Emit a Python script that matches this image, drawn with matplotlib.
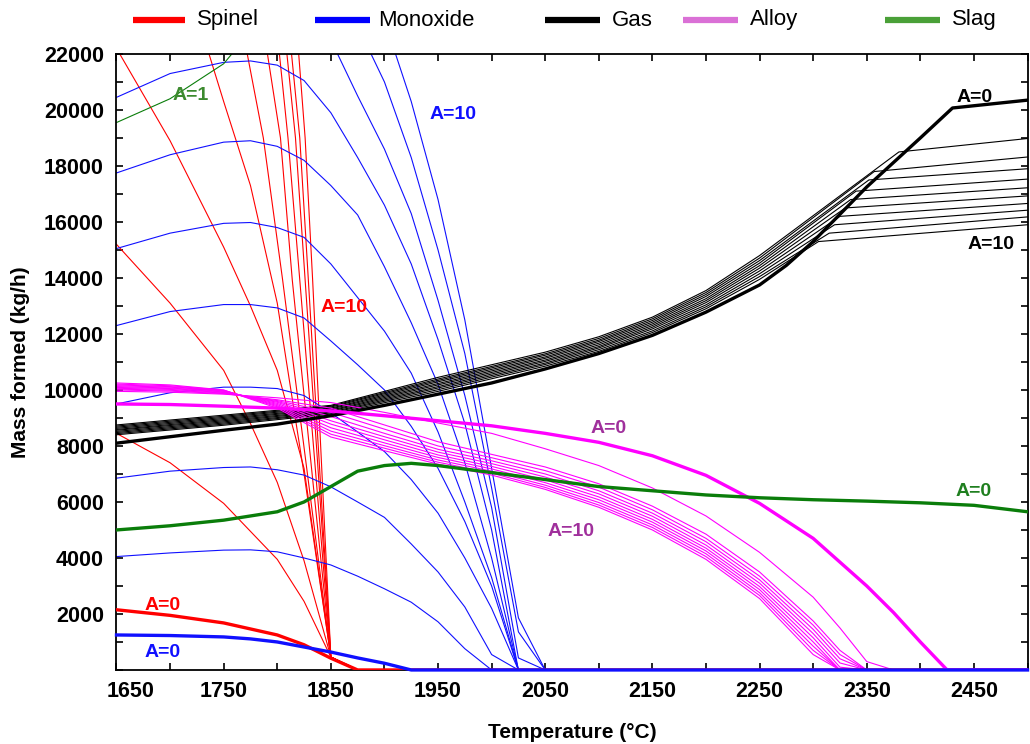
import numpy as np
import matplotlib.pyplot as plt
import matplotlib.transforms as mtransforms
from matplotlib.lines import Line2D
from matplotlib.ticker import MultipleLocator, FixedLocator, FuncFormatter

plt.rcParams['font.family'] = ['Liberation Sans', 'DejaVu Sans']

# Spinel (red): each A value has its own temperature points
spinel_t = [
    [1650, 1700, 1750, 1800, 1825, 1850, 1875, 2500],
    [1650, 1700, 1750, 1800, 1825, 1850, 1875, 2500],
    [1650, 1700, 1750, 1775, 1800, 1825, 1850, 1875, 2500],
    [1650, 1700, 1750, 1775, 1800, 1825, 1850, 1875, 2500],
    [1725, 1750, 1775, 1800, 1825, 1850, 1875, 2500],
    [1765, 1787, 1805, 1850, 1875, 2500],
    [1788, 1803, 1814, 1850, 1875, 2500],
    [1798, 1810, 1821, 1850, 1875, 2500],
    [1805, 1817, 1826, 1850, 1875, 2500],
    [1810, 1821, 1829, 1850, 1875, 2500],
    [1818, 1826, 1833, 1850, 1875, 2500],
]
spinel_y = [
    [2150, 1950, 1680, 1250, 900, 420, 0, 0],
    [8450, 7400, 5950, 3950, 2450, 460, 0, 0],
    [15200, 13100, 10700, 8800, 6700, 3900, 460, 0, 0],
    [22200, 18900, 15100, 13000, 10700, 7200, 460, 0, 0],
    [23400, 20300, 17300, 13100, 7000, 460, 0, 0],
    [23400, 19000, 13930, 460, 0, 0],
    [22700, 19000, 13930, 460, 0, 0],
    [23500, 19000, 13930, 460, 0, 0],
    [23500, 19000, 13930, 460, 0, 0],
    [23300, 19000, 13930, 460, 0, 0],
    [23000, 19000, 13930, 460, 0, 0],
]

# Monoxide (blue), A = 0..10
monoxide_t = [1650, 1700, 1750, 1775, 1800, 1825, 1850, 1875, 1900, 1925, 1950, 1975, 2000, 2025, 2050, 2500]
monoxide_y = [
    [1250, 1230, 1180, 1110, 1000, 820, 640, 430, 240, 0, 0, 0, 0, 0, 0, 0],
    [4050, 4180, 4280, 4290, 4220, 4000, 3750, 3350, 2900, 2420, 1720, 760, 0, 0, 0, 0],
    [6850, 7100, 7230, 7250, 7150, 6960, 6540, 6000, 5450, 4500, 3500, 2250, 550, 0, 0, 0],
    [9500, 9900, 10100, 10100, 10050, 9800, 9180, 8500, 7800, 6800, 5600, 4000, 2200, 0, 0, 0],
    [12300, 12800, 13050, 13050, 12930, 12570, 11750, 10900, 10000, 8700, 7200, 5300, 3000, 0, 0, 0],
    [15050, 15600, 15950, 15980, 15800, 15450, 14500, 13300, 12100, 10600, 8500, 6000, 3300, 0, 0, 0],
    [17750, 18400, 18850, 18900, 18700, 18200, 17300, 16250, 14400, 12400, 10200, 7400, 4000, 0, 0, 0],
    [20450, 21300, 21700, 21750, 21600, 21050, 19900, 18300, 16600, 14500, 11800, 8800, 5000, 0, 0, 0],
    [23200, 24200, 24600, 24600, 24500, 23800, 22500, 20500, 18600, 16300, 13200, 9800, 5800, 430, 0, 0],
    [25900, 27000, 27500, 27500, 27300, 26600, 25000, 23000, 21000, 18300, 15000, 11300, 6500, 1360, 0, 0],
    [28600, 29800, 30300, 30300, 30100, 29400, 27700, 25500, 23200, 20300, 16800, 12500, 7200, 1860, 0, 0],
]

# Gas (black): A=0 on its own grid, A=1..10 break at different temperatures
gas0_t = [1650, 1700, 1750, 1800, 1850, 1900, 1950, 2000, 2050, 2100, 2150, 2200, 2250, 2275, 2300, 2350, 2400, 2430, 2500]
gas0_y = [8100, 8330, 8560, 8780, 9080, 9450, 9850, 10250, 10750, 11300, 11950, 12780, 13750, 14450, 15300, 17250, 19000, 20070, 20350]
gas_t = [1650, 1750, 1850, 1950, 2050, 2100, 2150, 2200, 2250]
gas_break_t = [2380, 2357, 2352, 2340, 2335, 2330, 2325, 2320, 2315, 2305]
gas_y = [
    [8750, 9100, 9450, 10450, 11350, 11900, 12600, 13550, 14800, 18500, 18980],
    [8710, 9060, 9420, 10390, 11290, 11840, 12540, 13480, 14710, 17800, 18320],
    [8670, 9020, 9390, 10340, 11240, 11780, 12480, 13410, 14620, 17500, 17900],
    [8630, 8980, 9350, 10290, 11180, 11730, 12420, 13340, 14530, 17100, 17530],
    [8590, 8940, 9320, 10230, 11130, 11670, 12360, 13260, 14440, 16800, 17220],
    [8560, 8900, 9280, 10180, 11070, 11610, 12300, 13190, 14350, 16500, 16930],
    [8520, 8860, 9250, 10120, 11020, 11550, 12240, 13120, 14250, 16200, 16660],
    [8480, 8820, 9210, 10070, 10960, 11500, 12180, 13040, 14150, 15900, 16420],
    [8440, 8780, 9180, 10010, 10910, 11440, 12110, 12970, 14050, 15600, 16180],
    [8400, 8740, 9140, 9950, 10850, 11380, 12050, 12900, 13950, 15300, 15900],
]

# Alloy (magenta), A = 0..10
alloy_t = [1650, 1700, 1750, 1800, 1850, 1900, 1950, 2000, 2050, 2100, 2150, 2200, 2250, 2300, 2325, 2350, 2375, 2400, 2425, 2500]
alloy_y = [
    [9500, 9480, 9420, 9350, 9250, 9080, 8900, 8720, 8450, 8130, 7650, 6950, 5950, 4700, 3850, 3000, 2050, 1000, 0, 0],
    [9950, 9920, 9850, 9720, 9550, 9200, 8820, 8450, 7900, 7300, 6500, 5500, 4200, 2600, 1500, 300, 0, 0, 0, 0],
    [10000, 9960, 9870, 9650, 9350, 8750, 8150, 7700, 7250, 6650, 5850, 4850, 3500, 1750, 700, 0, 0, 0, 0, 0],
    [10030, 9990, 9890, 9620, 9200, 8600, 8000, 7580, 7120, 6530, 5720, 4700, 3350, 1600, 550, 0, 0, 0, 0, 0],
    [10060, 10020, 9910, 9590, 9050, 8450, 7880, 7470, 7000, 6400, 5600, 4580, 3220, 1450, 400, 0, 0, 0, 0, 0],
    [10090, 10050, 9930, 9560, 8900, 8330, 7780, 7370, 6890, 6290, 5490, 4460, 3100, 1300, 250, 0, 0, 0, 0, 0],
    [10120, 10070, 9950, 9520, 8780, 8220, 7680, 7270, 6790, 6180, 5380, 4350, 2980, 1150, 100, 0, 0, 0, 0, 0],
    [10150, 10100, 9970, 9480, 8650, 8110, 7590, 7180, 6690, 6080, 5280, 4250, 2870, 1000, 0, 0, 0, 0, 0, 0],
    [10180, 10120, 9980, 9440, 8530, 8010, 7500, 7100, 6600, 5980, 5180, 4150, 2760, 850, 0, 0, 0, 0, 0, 0],
    [10210, 10150, 9990, 9400, 8420, 7920, 7420, 7030, 6520, 5890, 5090, 4050, 2660, 700, 0, 0, 0, 0, 0, 0],
    [10250, 10180, 10000, 9350, 8320, 7830, 7350, 6960, 6450, 5810, 5000, 3950, 2550, 550, 0, 0, 0, 0, 0, 0],
]

# Slag (green): A=0 and the A=1 curve that shows in the top left corner
slag0_t = [1650, 1700, 1750, 1775, 1800, 1825, 1850, 1875, 1900, 1925, 1950, 2000, 2050, 2100, 2150, 2200, 2250, 2300, 2350, 2400, 2450, 2500]
slag0_y = [5000, 5150, 5350, 5500, 5650, 6000, 6550, 7100, 7300, 7380, 7300, 7050, 6800, 6550, 6400, 6250, 6150, 6080, 6030, 5970, 5880, 5650]
slag1_t = [1650, 1700, 1750, 1775]
slag1_y = [19550, 20400, 21650, 22800]

legend_names = ['Spinel', 'Monoxide', 'Gas', 'Alloy', 'Slag']
legend_colors = ['#ff0000', '#0000ff', '#000000', '#da70d6', '#4aa038']

RED = '#ff0000'
BLUE = '#1010ff'
MAGENTA = '#ff00ff'
GREEN = '#0a7d0a'
THIN = 0.8
THICK = 2.4
W, H = 1030, 744

fig = plt.figure(figsize=(W / 100, H / 100), dpi=100)
ax = fig.add_axes([0.1131, 0.0995, 0.8845, 0.8280])

for i, (t, y) in enumerate(zip(spinel_t, spinel_y)):
    ax.plot(t, y, color=RED, lw=THICK if i == 0 else THIN, zorder=3 if i == 0 else 2)

for y in monoxide_y[1:]:
    ax.plot(monoxide_t, y, color=BLUE, lw=THIN, zorder=2)

for bt, y in zip(gas_break_t, gas_y):
    ax.plot(gas_t + [bt, 2500], y, color='black', lw=THIN, zorder=2)
ax.plot(gas0_t, gas0_y, color='black', lw=THICK, zorder=3)

for i, y in enumerate(alloy_y):
    ax.plot(alloy_t, y, color=MAGENTA, lw=THICK if i == 0 else THIN, zorder=3 if i == 0 else 2)

ax.plot(slag1_t, slag1_y, color=GREEN, lw=THIN, zorder=2)
ax.plot(slag0_t, slag0_y, color=GREEN, lw=THICK, zorder=4)

ax.plot(monoxide_t, monoxide_y[0], color=BLUE, lw=THICK, zorder=5, clip_on=False)

ax.set_xlim(1650, 2500)
ax.set_ylim(0, 22000)
ax.xaxis.set_major_locator(FixedLocator(np.arange(1650, 2451, 100)))
ax.xaxis.set_minor_locator(MultipleLocator(50))
ax.yaxis.set_major_locator(MultipleLocator(2000))
ax.yaxis.set_minor_locator(MultipleLocator(1000))
ax.yaxis.set_major_formatter(FuncFormatter(lambda v, p: '' if v == 0 else '%d' % v))
ax.tick_params(which='both', direction='in', top=True, right=True, length=5, width=1.2)
ax.tick_params(which='major', labelsize=15.5)
ax.tick_params(axis='y', which='major', pad=9)
ax.tick_params(axis='x', which='major', pad=8)
for lab in ax.get_xticklabels() + ax.get_yticklabels():
    lab.set_fontweight('bold')
for s in ax.spines.values():
    s.set_linewidth(1.3)

# nudge the first temperature label clear of the y labels
first = ax.xaxis.get_major_ticks()[0].label1
first.set_transform(first.get_transform() + mtransforms.ScaledTranslation(0.14, 0, fig.dpi_scale_trans))

ax.set_xlabel('Temperature (°C)', fontsize=15, fontweight='bold', labelpad=15)
ax.set_ylabel('Mass formed (kg/h)', fontsize=15, fontweight='bold', labelpad=10)

# curve annotations
lab = dict(fontsize=14, fontweight='bold', ha='center', va='center')
ax.text(2451, 20460, 'A=0', color='black', **lab)
ax.text(2466, 15210, 'A=10', color='black', **lab)
ax.text(1964, 19820, 'A=10', color='#1010ff', **lab)
ax.text(1719, 20500, 'A=1', color='#3c8a2e', **lab)
ax.text(1862, 12930, 'A=10', color='#ff0000', **lab)
ax.text(2109, 8640, 'A=0', color='#a0309c', **lab)
ax.text(2074, 4960, 'A=10', color='#a0309c', **lab)
ax.text(2450, 6390, 'A=0', color='#1f7f1f', **lab)
ax.text(1693, 2290, 'A=0', color='#ff0000', **lab)
ax.text(1693, 610, 'A=0', color='#1010ff', **lab)

# legend row above the axes, placed by pixel
line_x = [(133, 185), (315, 370), (545, 600), (683, 738), (885, 940)]
text_x = [197, 378, 612, 750, 952]
yc = 1 - 20 / H
for (x0, x1), tx, c, name in zip(line_x, text_x, legend_colors, legend_names):
    fig.add_artist(Line2D([x0 / W, x1 / W], [yc, yc], color=c, lw=4.5, solid_capstyle='butt',
                          transform=fig.transFigure))
    fig.text(tx / W, yc, name, ha='left', va='center', fontsize=16)

fig.savefig('out.png', dpi=100)
